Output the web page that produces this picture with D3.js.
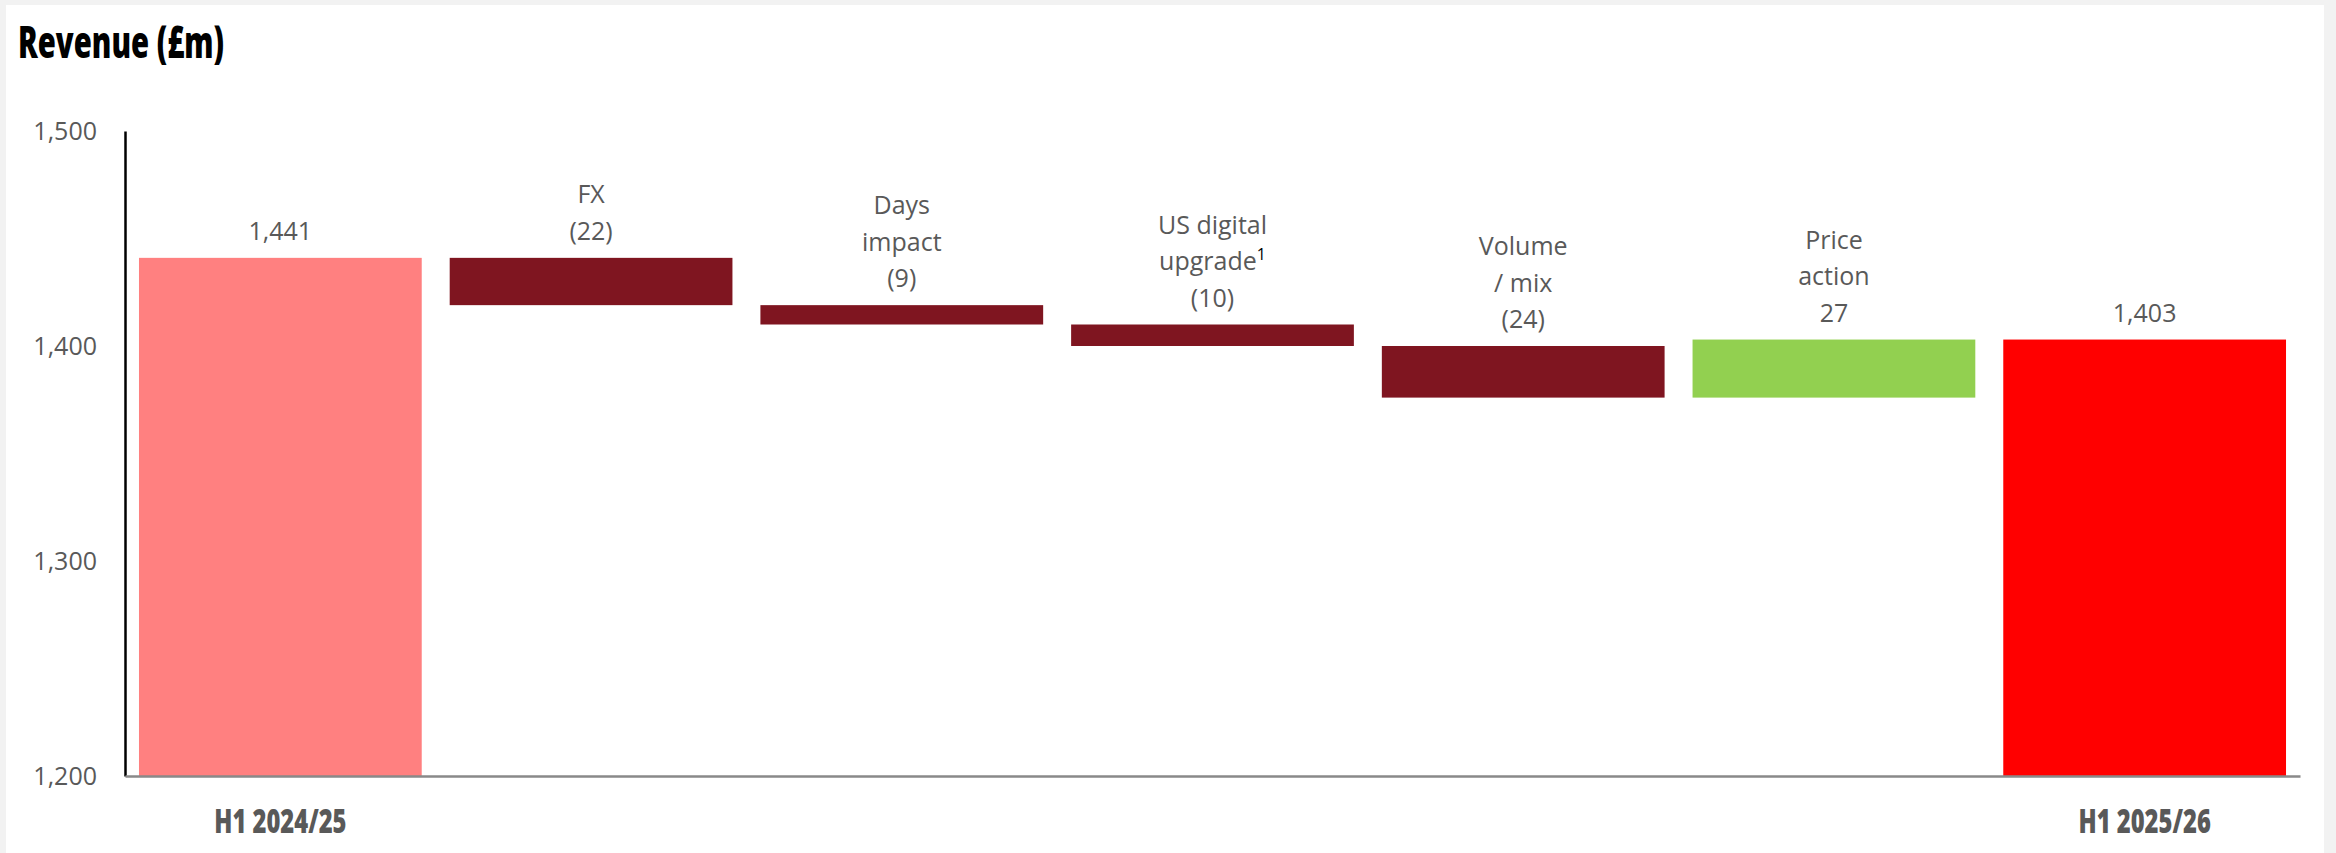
<!DOCTYPE html>
<html lang="en">
<head>
<meta charset="UTF-8">
<title>Revenue (£m)</title>
<script src="https://d3js.org/d3.v7.min.js"></script>
<style>
  html, body { margin: 0; padding: 0; background: #f2f2f2; }
  svg { display: block; }
  .tick text, .lbl { font-family: "Open Sans", "Noto Sans", sans-serif; fill: #595959; }
  .title { font-family: "Open Sans", sans-serif; font-weight: 800; }
  .cat { font-family: "Open Sans", sans-serif; font-weight: 800; fill: #595959; }
</style>
</head>
<body>
<svg id="chart"></svg>
<script>
// chart values
let categories = ['H1 2024/25', 'FX', 'Days impact', 'US digital upgrade', 'Volume / mix', 'Price action', 'H1 2025/26']
let values = [1441, -22, -9, -10, -24, 27, 1403]
let kinds = ['total', 'delta', 'delta', 'delta', 'delta', 'delta', 'total']
let nameLines = [[], ['FX'], ['Days', 'impact'], ['US digital', 'upgrade'], ['Volume', '/ mix'], ['Price', 'action'], []]
let footnotes = ['', '', '', '1', '', '', '']
let yTicks = [1200, 1300, 1400, 1500]

let width = 2336, height = 853
let svg = d3.select('#chart').attr('width', width).attr('height', height)

svg.append('rect').attr('x', 6).attr('y', 5).attr('width', 2318).attr('height', height - 5).attr('fill', '#fff')

// condensed look: squeeze a bold face horizontally
svg.append('text').attr('class', 'title')
    .attr('transform', 'translate(18,58) scale(0.65,1)')
    .style('font-size', '45px')
    .text('Revenue (£m)')

let x = d3.scaleBand().domain(categories).range([125, 2300]).paddingInner(0.09).paddingOuter(0.045)
let y = d3.scaleLinear().domain([1200, 1500]).range([776, 131])

// waterfall steps
let running = 0
let bars = categories.map((c, i) => {
    let v = values[i], lo, hi
    if (kinds[i] === 'total') { lo = y.domain()[0]; hi = v; running = v }
    else { let start = running; running += v; lo = Math.min(start, running); hi = Math.max(start, running) }
    let color = kinds[i] === 'total' ? (i === 0 ? '#ff8080' : '#ff0000') : (v < 0 ? '#7f1520' : '#92d050')
    return { c, v, lo, hi, color, i }
})

svg.selectAll('rect.bar').data(bars).enter().append('rect')
    .attr('class', 'bar')
    .attr('x', d => x(d.c))
    .attr('width', x.bandwidth())
    .attr('y', d => y(d.hi))
    .attr('height', d => y(d.lo) - y(d.hi))
    .attr('fill', d => d.color)

let fmt = d3.format(',')
let valText = d => d.v < 0 ? '(' + fmt(-d.v) + ')' : fmt(d.v)

// labels above bars
let lineH = 36.5
bars.forEach(d => {
    let lines = nameLines[d.i].concat([valText(d)])
    let base = y(d.hi) - 18
    let cx = x(d.c) + x.bandwidth() / 2
    lines.forEach((ln, k) => {
        let t = svg.append('text').attr('class', 'lbl')
            .attr('x', cx).attr('y', base - (lines.length - 1 - k) * lineH)
            .attr('text-anchor', 'middle')
            .style('font-size', '25px')
            .text(ln)
        if (k === 1 && footnotes[d.i]) {
            t.append('tspan').attr('dy', -10).style('font-size', '16px').style('fill', '#000').text(footnotes[d.i])
        }
    })
})

// y axis
let yAxis = svg.append('g').attr('transform', 'translate(125,0)')
    .call(d3.axisLeft(y).tickValues(yTicks).tickFormat(fmt).tickSize(0).tickSizeOuter(0).tickPadding(28))
yAxis.select('.domain').attr('stroke', '#000').attr('stroke-width', 2.5)
yAxis.selectAll('.tick text').style('font-size', '25px')

// x axis
let xAxis = svg.append('g').attr('transform', 'translate(0,776)')
    .call(d3.axisBottom(x).tickSize(0).tickSizeOuter(0)
        .tickFormat((c, i) => kinds[i] === 'total' ? c : ''))
xAxis.select('.domain').attr('stroke', '#898989').attr('stroke-width', 2.5)
xAxis.selectAll('.tick text').attr('class', 'cat')
    .attr('y', 57).attr('dy', 0)
    .attr('transform', 'scale(0.72,1)')
    .style('font-size', '33px')
</script>
</body>
</html>
